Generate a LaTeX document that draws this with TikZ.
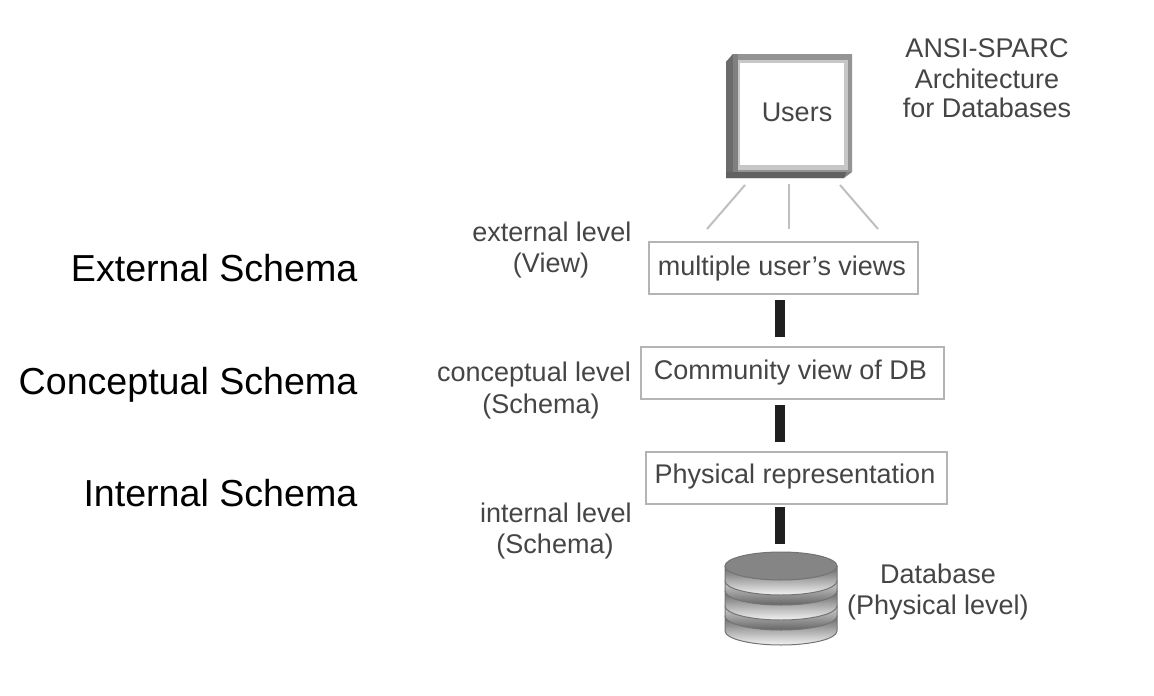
\documentclass[tikz,border=0pt]{standalone}
\usepackage{fontspec}
\setmainfont{Liberation Sans}
\definecolor{ink}{HTML}{454545}
\definecolor{boxline}{HTML}{B4B4B4}
\tikzset{
  big/.style={font=\fontsize{37.6}{40}\selectfont,text=black,anchor=base east,inner sep=0pt},
  small/.style={font=\fontsize{27}{30}\selectfont,text=ink,anchor=base,inner sep=0pt},
  levelbox/.style={draw=boxline,line width=2pt,fill=white,inner sep=0pt},
  bar/.style={line width=10pt,draw=black!88},
  thin link/.style={line width=2pt,draw=black!25},
  diskside/.style={left color=black!60,middle color=black!38,right color=black!5,shading angle=0,draw=black!55,line width=1pt},
  diskgap/.style={left color=black!18,right color=black!60,shading angle=0,draw=black!55,line width=1pt},
}
\newcommand{\diskpart}[3]{\path[#3] (725,#1) -- (725,#2) arc[start angle=180,end angle=0,x radius=56,y radius=14] -- (837,#1) -- cycle;}
\begin{document}
\begin{tikzpicture}[x=1pt,y=-1pt]
\useasboundingbox (0,0) rectangle (1154,696);
\fill[white] (0,0) rectangle (1154,696);
% Left captions
\node[big] (ext) at (357.5,281) {External Schema};
\node[big] (con) at (357.5,394) {Conceptual Schema};
\node[big] (int) at (357.5,506) {Internal Schema};
% Users box
\fill[black!50] (726,62) -- (733,54) -- (852,54) -- (852,172) -- (844,178) -- (726,178) -- cycle;
\fill[black!42] (733,54) rectangle (852,172);
\fill[black!62] (726,172) -- (846,172) -- (844,178) -- (726,178) -- cycle;
\fill[black!58] (726,62) -- (733,54) -- (733,172) -- (726,172) -- cycle;
\fill[black!50] (733,54) rectangle (738,172);
\fill[black!22] (738,60) rectangle (848,170);
\node[fill=white,minimum width=104pt,minimum height=102pt,inner sep=0pt,anchor=north west] (users) at (740,63) {};
\node[small] (userst) at (797,121) {Users};
% Top right title
\node[small] (t1) at (987,57) {ANSI-SPARC};
\node[small] (t2) at (987,88) {Architecture};
\node[small] (t3) at (987,117) {for Databases};
% Level boxes
\node[levelbox,minimum width=269pt,minimum height=52pt,anchor=north west] (views) at (648,241) {};
\node[small] (viewst) at (782,275) {multiple user{\char"27}s views};
\node[levelbox,minimum width=303pt,minimum height=52pt,anchor=north west] (comm) at (640,346) {};
\node[small] (commt) at (790.5,379) {Community view of DB};
\node[levelbox,minimum width=301pt,minimum height=52pt,anchor=north west] (phys) at (645,451) {};
\node[small] (physt) at (795,483) {Physical representation};
% Level labels
\node[small] (l1a) at (552,241) {external level};
\node[small] (l1b) at (551,272) {(View)};
\node[small] (l2a) at (534,381) {conceptual level};
\node[small] (l2b) at (541,413) {(Schema)};
\node[small] (l3a) at (556,522) {internal level};
\node[small] (l3b) at (555,553) {(Schema)};
% Links from users to views
\coordinate (u1) at (745,185); \coordinate (v1) at (707,229);
\coordinate (u2) at (789,184); \coordinate (v2) at (789,229);
\coordinate (u3) at (840,185); \coordinate (v3) at (878,229);
\draw[thin link] (u1) -- (v1);
\draw[thin link] (u2) -- (v2);
\draw[thin link] (u3) -- (v3);
% Bars
\coordinate (a1) at (780,300); \coordinate (a2) at (780,337);
\coordinate (b1) at (780,405); \coordinate (b2) at (780,442);
\coordinate (c1) at (780,507); \coordinate (c2) at (780,544);
\draw[bar] (a1) -- (a2);
\draw[bar] (b1) -- (b2);
\draw[bar] (c1) -- (c2);
% Database stack
\diskpart{616}{631}{diskside}
\diskpart{606}{616}{diskgap}
\diskpart{591}{606}{diskside}
\diskpart{581}{591}{diskgap}
\diskpart{566}{581}{diskside}
\path[fill=black!48,draw=black!55,line width=1pt] (781,566) ellipse[x radius=56,y radius=14];
\node[small] (d1) at (938,583) {Database};
\node[small] (d2) at (938,614) {(Physical level)};
\end{tikzpicture}
\end{document}
